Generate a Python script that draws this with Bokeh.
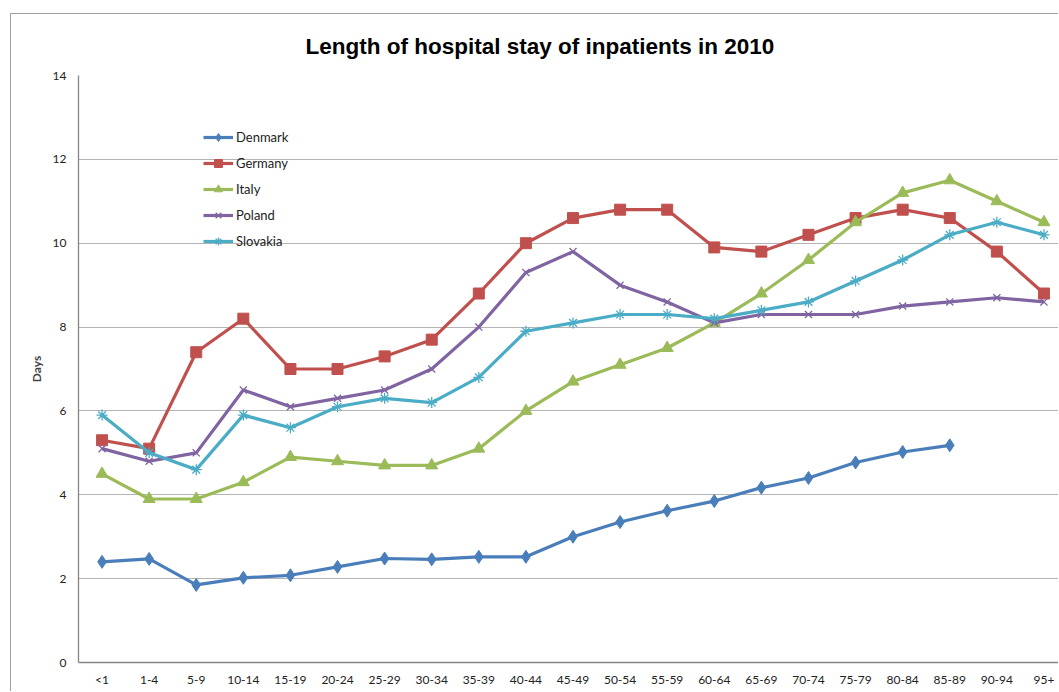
from bokeh.plotting import figure
from bokeh.models import FixedTicker
from bokeh.embed import file_html
from bokeh.resources import INLINE

nan = float("nan")

age_groups = ["<1", "1-4", "5-9", "10-14", "15-19", "20-24", "25-29", "30-34", "35-39",
              "40-44", "45-49", "50-54", "55-59", "60-64", "65-69", "70-74", "75-79",
              "80-84", "85-89", "90-94", "95+"]
denmark = [2.40, 2.47, 1.85, 2.02, 2.08, 2.28, 2.48, 2.46, 2.52, 2.52, 3.00, 3.35, 3.62,
           3.85, 4.17, 4.40, 4.77, 5.02, 5.18, nan, nan]
germany = [5.3, 5.1, 7.4, 8.2, 7.0, 7.0, 7.3, 7.7, 8.8, 10.0, 10.6, 10.8, 10.8, 9.9, 9.8,
           10.2, 10.6, 10.8, 10.6, 9.8, 8.8]
italy = [4.5, 3.9, 3.9, 4.3, 4.9, 4.8, 4.7, 4.7, 5.1, 6.0, 6.7, 7.1, 7.5, 8.1, 8.8, 9.6,
         10.5, 11.2, 11.5, 11.0, 10.5]
poland = [5.1, 4.8, 5.0, 6.5, 6.1, 6.3, 6.5, 7.0, 8.0, 9.3, 9.8, 9.0, 8.6, 8.1, 8.3, 8.3,
          8.3, 8.5, 8.6, 8.7, 8.6]
slovakia = [5.9, 5.0, 4.6, 5.9, 5.6, 6.1, 6.3, 6.2, 6.8, 7.9, 8.1, 8.3, 8.3, 8.2, 8.4, 8.6,
            9.1, 9.6, 10.2, 10.5, 10.2]
y_ticks = [0, 2, 4, 6, 8, 10, 12, 14]
title_text = "Length of hospital stay of inpatients in 2010"

xs = list(range(len(age_groups)))

p = figure(width=1048, height=678, output_backend="svg", toolbar_location=None,
           x_range=(-0.5, 20.33), y_range=(0, 14),
           min_border_left=67, min_border_top=61, min_border_bottom=30, min_border_right=0)
p.margin = (13, 0, 0, 10)
p.styles = {"border-left": "1px solid #a0a0a0", "border-top": "1px solid #a0a0a0"}
p.outline_line_color = None
p.background_fill_color = "white"
p.border_fill_color = "white"

p.title.text = title_text
p.title.align = "left"
p.title.offset = 227
p.title.text_font = "Liberation Sans"
p.title.text_font_style = "bold"
p.title.text_font_size = "22.5px"
p.title.text_color = "black"
p.title.standoff = 33

p.xgrid.grid_line_color = None
p.ygrid.grid_line_color = "#b4b4b4"
p.ygrid.grid_line_width = 1
p.ygrid.ticker = FixedTicker(ticks=y_ticks)

p.yaxis.ticker = FixedTicker(ticks=y_ticks)
p.xaxis.ticker = FixedTicker(ticks=xs)
p.xaxis.major_label_overrides = {i: lab for i, lab in enumerate(age_groups)}
for ax in (p.xaxis, p.yaxis):
    ax.axis_line_color = "#868686"
    ax.axis_line_width = 1.3
    ax.major_tick_line_color = None
    ax.minor_tick_line_color = None
    ax.major_tick_out = 0
    ax.major_tick_in = 0
    ax.minor_tick_out = 0
    ax.major_label_text_font = "Lato"
    ax.major_label_text_font_size = "12px"
    ax.major_label_text_color = "#222222"
p.xaxis.major_label_standoff = 9
p.yaxis.major_label_standoff = 12
p.yaxis.axis_label = "Days"
p.yaxis.axis_label_text_font = "Lato"
p.yaxis.axis_label_text_font_size = "12px"
p.yaxis.axis_label_text_font_style = "bold"
p.yaxis.axis_label_standoff = 6

series = [
    ("Denmark", denmark, "#4A7EBB", "diamond", 13),
    ("Germany", germany, "#C0504D", "square", 11),
    ("Italy", italy, "#9BBB59", "triangle", 12),
    ("Poland", poland, "#8064A2", "x", 10),
    ("Slovakia", slovakia, "#4BACC6", "asterisk", 11),
]
for name, vals, col, marker, size in series:
    p.line(xs, vals, line_color=col, line_width=3.2, legend_label=name)
    if marker in ("x", "asterisk"):
        p.scatter(xs, vals, marker=marker, size=size, line_color=col, line_width=1.3,
                  legend_label=name)
    else:
        p.scatter(xs, vals, marker=marker, size=size, fill_color=col, line_color=col,
                  legend_label=name)

p.legend.location = (125, 411)
p.legend.border_line_color = None
p.legend.background_fill_alpha = 0
p.legend.label_text_font = "Lato"
p.legend.label_text_font_size = "13px"
p.legend.label_text_color = "#222222"
p.legend.glyph_width = 30
p.legend.glyph_height = 20
p.legend.spacing = 6
p.legend.padding = 0
p.legend.margin = 0
p.legend.label_standoff = 3

open("out.html", "w").write(file_html(p, INLINE))
